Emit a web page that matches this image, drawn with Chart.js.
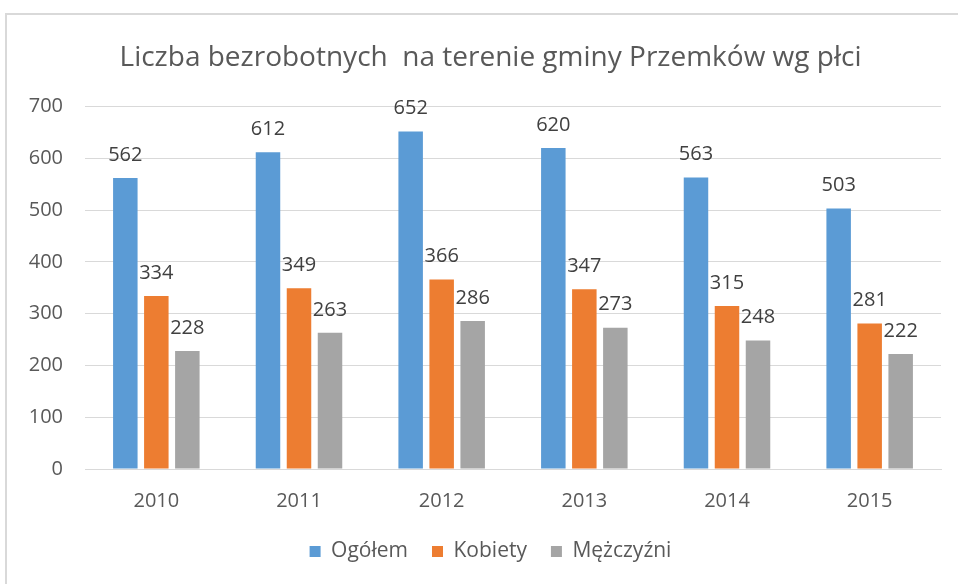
<!DOCTYPE html>
<html>
<head>
<meta charset="utf-8">
<script src="https://cdn.jsdelivr.net/npm/chart.js@4.4.1/dist/chart.umd.min.js"></script>
<style>
  html, body { margin: 0; padding: 0; background: #fff; }
  #wrap { position: relative; width: 958px; height: 584px; }
</style>
</head>
<body>
<div id="wrap"><canvas id="chart" width="958" height="584"></canvas></div>
<script>
const years = ["2010", "2011", "2012", "2013", "2014", "2015"]
const ogolem = [562, 612, 652, 620, 563, 503]
const kobiety = [334, 349, 366, 347, 315, 281]
const mezczyzni = [228, 263, 286, 273, 248, 222]

const FONT = "'Open Sans', 'Liberation Sans', sans-serif"

// outer frame like the original spreadsheet chart box
const framePlugin = {
  id: 'frame',
  beforeDraw(chart) {
    const ctx = chart.ctx
    ctx.save()
    ctx.strokeStyle = '#d9d9d9'
    ctx.lineWidth = 2
    ctx.strokeRect(6, 14, 1000, 1000)
    ctx.restore()
  },
  // let the y tick labels use the left padding too (they get clipped to the scale box)
  afterLayout(chart) {
    chart.scales.y.left = 0
  }
}

// value labels above each bar
const valuePlugin = {
  id: 'values',
  afterDatasetsDraw(chart) {
    const ctx = chart.ctx
    ctx.save()
    ctx.font = "20px " + FONT
    ctx.fillStyle = '#404040'
    ctx.textAlign = 'center'
    ctx.textBaseline = 'middle'
    chart.data.datasets.forEach((ds, i) => {
      chart.getDatasetMeta(i).data.forEach((bar, j) => {
        ctx.fillText(String(ds.data[j]), bar.x, bar.y - 23)
      })
    })
    ctx.restore()
  }
}

new Chart(document.getElementById('chart'), {
  type: 'bar',
  data: {
    labels: years,
    datasets: [
      { label: 'Ogółem', data: ogolem, backgroundColor: '#5B9BD5' },
      { label: 'Kobiety', data: kobiety, backgroundColor: '#ED7D31' },
      { label: 'Mężczyźni', data: mezczyzni, backgroundColor: '#A5A5A5' }
    ]
  },
  options: {
    responsive: false,
    animation: false,
    categoryPercentage: 0.652,
    barPercentage: 0.79,
    layout: { padding: { left: 40, right: 17, top: 0, bottom: 12 } },
    plugins: {
      title: {
        display: true,
        text: 'Liczba bezrobotnych  na terenie gminy Przemków wg płci',
        color: '#595959',
        font: { family: FONT, size: 28, weight: 'normal' },
        padding: { top: 41, bottom: 32 }
      },
      legend: {
        position: 'bottom',
        labels: {
          color: '#595959',
          font: { family: FONT, size: 21 },
          boxWidth: 11,
          boxHeight: 11,
          padding: 24
        }
      },
      tooltip: { enabled: false }
    },
    scales: {
      x: {
        grid: { display: false },
        border: { color: '#d9d9d9' },
        ticks: { color: '#595959', font: { family: FONT, size: 20 }, padding: 12 },
        afterFit: s => { s.height = 48 }
      },
      y: {
        min: 0,
        max: 700,
        ticks: { stepSize: 100, color: '#595959', font: { family: FONT, size: 20 }, padding: 22 },
        grid: { color: '#d9d9d9', drawTicks: false },
        border: { display: false },
        afterFit: s => { s.width = 45 }
      }
    }
  },
  plugins: [framePlugin, valuePlugin]
})
</script>
</body>
</html>
